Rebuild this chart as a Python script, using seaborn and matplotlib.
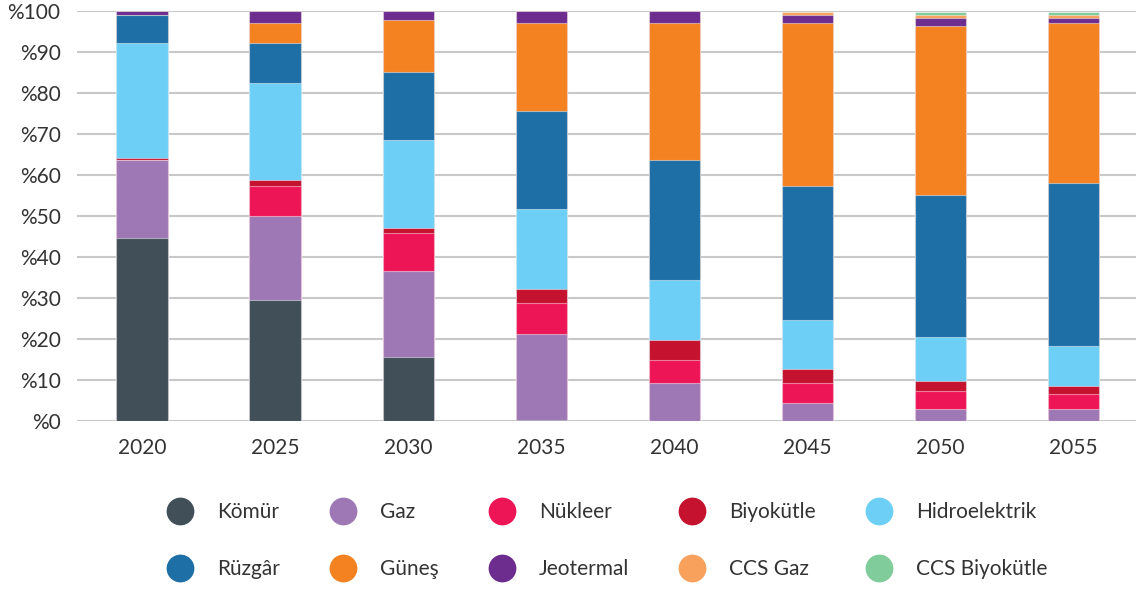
import numpy as np
import pandas as pd
import matplotlib
matplotlib.use("Agg")
import matplotlib.pyplot as plt
import seaborn as sns
from matplotlib.lines import Line2D

years = ["2020", "2025", "2030", "2035", "2040", "2045", "2050", "2055"]
series_names = ["Kömür", "Gaz", "Nükleer", "Biyokütle", "Hidroelektrik",
                "Rüzgâr", "Güneş", "Jeotermal", "CCS Gaz", "CCS Biyokütle"]
komur        = [44.6, 29.5, 15.6, 0.3, 0.0, 0.0, 0.0, 0.0]
gaz          = [19.1, 20.5, 21.0, 20.9, 9.3, 4.4, 3.0, 3.0]
nukleer      = [0.0, 7.3, 9.3, 7.6, 5.6, 4.9, 4.3, 3.5]
biyokutle    = [0.5, 1.5, 1.2, 3.4, 4.9, 3.5, 2.6, 2.0]
hidro        = [28.0, 23.6, 21.4, 19.5, 14.6, 11.8, 10.6, 9.8]
ruzgar       = [6.8, 9.8, 16.6, 23.9, 29.3, 32.7, 34.6, 39.7]
gunes        = [0.0, 4.9, 12.7, 21.5, 33.4, 39.8, 41.2, 39.1]
jeotermal    = [1.0, 2.9, 2.2, 2.9, 2.9, 1.9, 2.0, 1.2]
ccs_gaz      = [0.0, 0.0, 0.0, 0.0, 0.0, 0.8, 0.7, 0.7]
ccs_biyokutle = [0.0, 0.0, 0.0, 0.0, 0.0, 0.0, 0.8, 0.8]

colors = ["#414f59", "#9e78b4", "#ee1556", "#c4122f", "#6dcff6",
          "#1f6fa7", "#f48221", "#6d2d8f", "#f7a15d", "#80cc9a"]

values = [komur, gaz, nukleer, biyokutle, hidro, ruzgar, gunes, jeotermal,
          ccs_gaz, ccs_biyokutle]

sns.set_theme(style="white")
plt.rcParams['font.family'] = ['Lato', 'DejaVu Sans']

fig = plt.figure(figsize=(11.36, 5.89), dpi=100)
ax = fig.add_axes([0.068, 0.285, 0.932, 0.696])

cum = np.cumsum(np.array(values), axis=0)
# draw top layers first, lower layers over them
for i in range(len(series_names) - 1, -1, -1):
    df = pd.DataFrame({"year": years, "val": cum[i]})
    sns.barplot(data=df, x="year", y="val", color=colors[i], saturation=1,
                width=0.39, ax=ax, edgecolor=(1, 1, 1, 0.45), linewidth=0.8,
                zorder=3)

ax.set_ylim(0, 100)
ax.set_xlim(-0.49, 7.47)
ax.set_yticks(range(0, 101, 10))
ax.set_yticklabels([f"%{v}" for v in range(0, 101, 10)])
ax.yaxis.grid(True, color="#c8c8c8", linewidth=1.5, zorder=0)
ax.set_axisbelow(True)
for s in ax.spines.values():
    s.set_visible(False)
ax.set_xlabel("")
ax.set_ylabel("")
ax.tick_params(axis="both", length=0, labelsize=15, colors="#333333")
ax.tick_params(axis="y", pad=12)
ax.tick_params(axis="x", pad=12)

order = [0, 5, 1, 6, 2, 7, 3, 8, 4, 9]
handles = [Line2D([0], [0], marker="o", linestyle="none", markersize=20,
                  markerfacecolor=colors[i], markeredgecolor="none")
           for i in order]
labels = [series_names[i] for i in order]
fig.legend(handles, labels, loc="center", bbox_to_anchor=(0.531, 0.082),
           ncol=5, frameon=False, fontsize=15, handletextpad=0.8,
           columnspacing=2.0, labelspacing=1.75, labelcolor="#333333")

fig.savefig("out.png", dpi=100)
